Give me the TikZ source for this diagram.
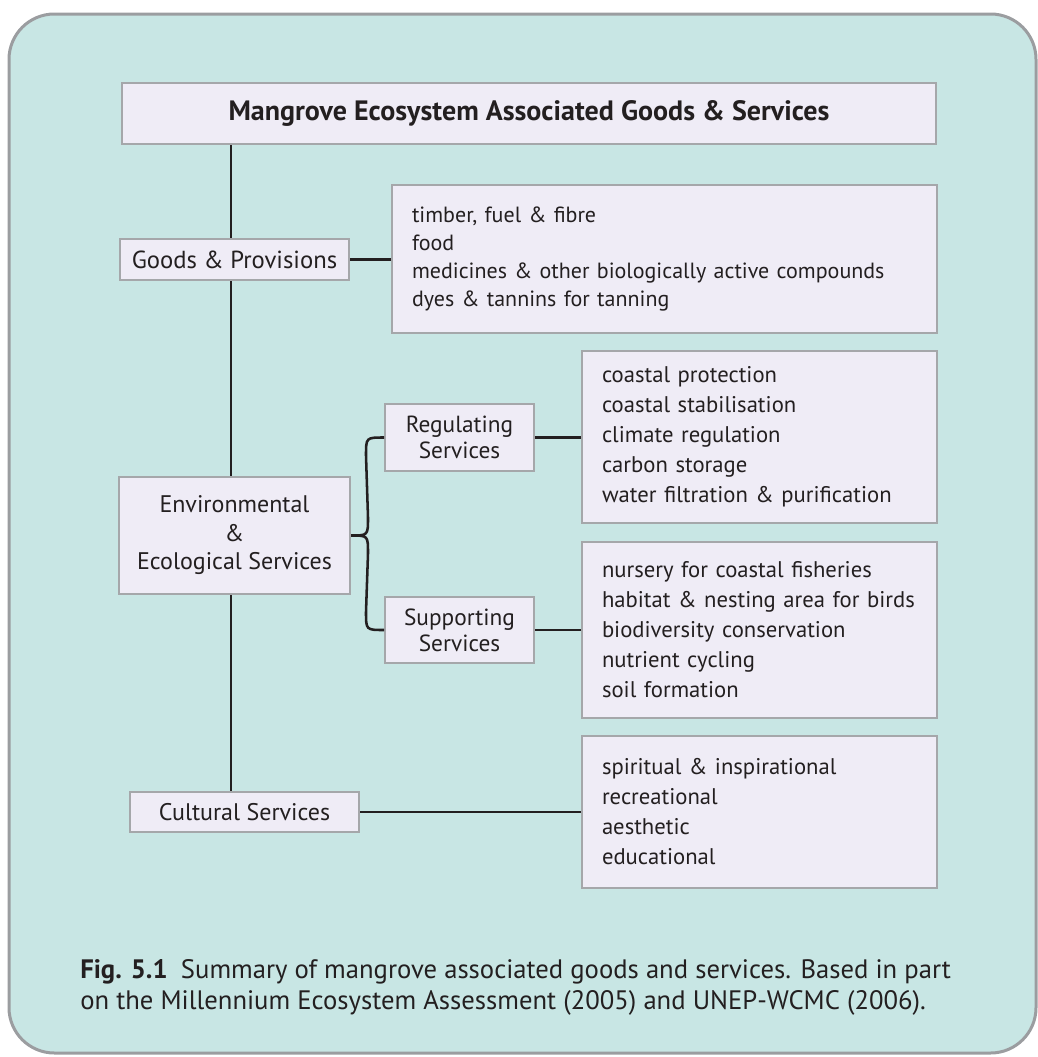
\documentclass[tikz,border=0pt]{standalone}
\usepackage{fontspec}
\setmainfont{PT Sans}
\usepackage{tikz}
\usetikzlibrary{calc}

\definecolor{framefill}{RGB}{200,230,228}
\definecolor{frameline}{RGB}{155,157,160}
\definecolor{boxfill}{RGB}{239,236,246}
\definecolor{boxline}{RGB}{165,167,170}
\definecolor{ink}{RGB}{35,31,32}

\begin{document}
\begin{tikzpicture}[x=0.75pt,y=0.75pt,yscale=-1,xscale=1,
  box/.style={draw=boxline, line width=1.5pt, fill=boxfill, inner sep=0pt, text=ink, align=center, font=\fontsize{18}{19.5}\selectfont},
  listbox/.style={box, align=left, inner xsep=15pt, minimum width=266.25pt, text width=236.25pt, font=\fontsize{17}{22.5}\selectfont},
  conn/.style={draw=ink, line width=1.9pt}
]
\useasboundingbox (0,0) rectangle (1038,1057);

%Shape: Rounded Rectangle
\draw [draw=frameline, line width=2.25pt, fill=framefill, rounded corners=34pt] (9,14) rectangle (1036,1053);

% Text Node
\node [box, minimum width=610.5pt, minimum height=45.75pt, font=\fontsize{21}{24}\selectfont\bfseries] (title) at (529,113.5) {Mangrove Ecosystem Associated Goods \& Services};
% Text Node
\node [box, minimum width=171.75pt, minimum height=30.75pt, font=\fontsize{18.5}{20}\selectfont] (gp) at (234.5,259.5) {Goods \& Provisions};
% Text Node
\node [listbox, minimum width=408.75pt, text width=378.75pt, minimum height=111pt, font=\fontsize{16.5}{21}\selectfont] (gplist) at (664.5,259) {timber, fuel \& fibre\\food\\medicines \& other biologically active compounds\\dyes \& tannins for tanning};
% Text Node
\node [box, minimum width=173.25pt, minimum height=87.75pt, font=\fontsize{18}{21.4}\selectfont] (env) at (234.5,535.5) {Environmental\\\&\\Ecological Services};
% Text Node
\node [box, minimum width=111.75pt, minimum height=50.25pt, font=\fontsize{17.5}{19.5}\selectfont] (reg) at (459.5,437.5) {Regulating\\Services};
% Text Node
\node [listbox, minimum height=129pt] (reglist) at (759.5,437) {coastal protection\\coastal stabilisation\\climate regulation\\carbon storage\\water filtration \& purification};
% Text Node
\node [box, minimum width=111.75pt, minimum height=49.5pt, font=\fontsize{17.5}{19.5}\selectfont] (sup) at (459.5,630) {Supporting\\Services};
% Text Node
\node [listbox, minimum height=132pt] (suplist) at (759.5,630) {nursery for coastal fisheries\\habitat \& nesting area for birds\\biodiversity conservation\\nutrient cycling\\soil formation};
% Text Node
\node [box, minimum width=171.75pt, minimum height=30pt] (cult) at (244.5,812) {Cultural Services};
% Text Node
\node [listbox, minimum height=114pt] (cultlist) at (759.5,812) {spiritual \& inspirational\\recreational\\aesthetic\\educational};

%Straight Lines
\coordinate (trunk) at (231,0);
\draw [conn] (title.south -| trunk) -- (gp.north -| trunk);
\draw [conn] (gp.south -| trunk) -- (env.north -| trunk);
\draw [conn] (env.south -| trunk) -- (cult.north -| trunk);
\draw [conn] (gp.east) -- (gp.east -| gplist.west);
\draw [conn] (reg.east) -- (reg.east -| reglist.west);
\draw [conn] (sup.east) -- (sup.east -| suplist.west);
\draw [conn] (cult.east) -- (cult.east -| cultlist.west);
%Curve Lines
\draw [conn] (reg.west) .. controls ($(reg.west)+(-18,0)$) .. ($(reg.west)+(-18,18)$) -- ($(env.east)+(17,-18)$) .. controls ($(env.east)+(17,0)$) .. (env.east) .. controls ($(env.east)+(17,0)$) .. ($(env.east)+(17,18)$) -- ($(sup.west)+(-18,-18)$) .. controls ($(sup.west)+(-18,0)$) .. (sup.west);

% Text Node
\node [anchor=west, align=left, inner sep=0pt, text=ink, font=\fontsize{20}{23.25}\selectfont] (caption) at (80,987.5) {\textbf{Fig. 5.1}\enspace Summary of mangrove associated goods and services. Based in part\\on the Millennium Ecosystem Assessment (2005) and UNEP-WCMC (2006).};

\end{tikzpicture}
\end{document}
